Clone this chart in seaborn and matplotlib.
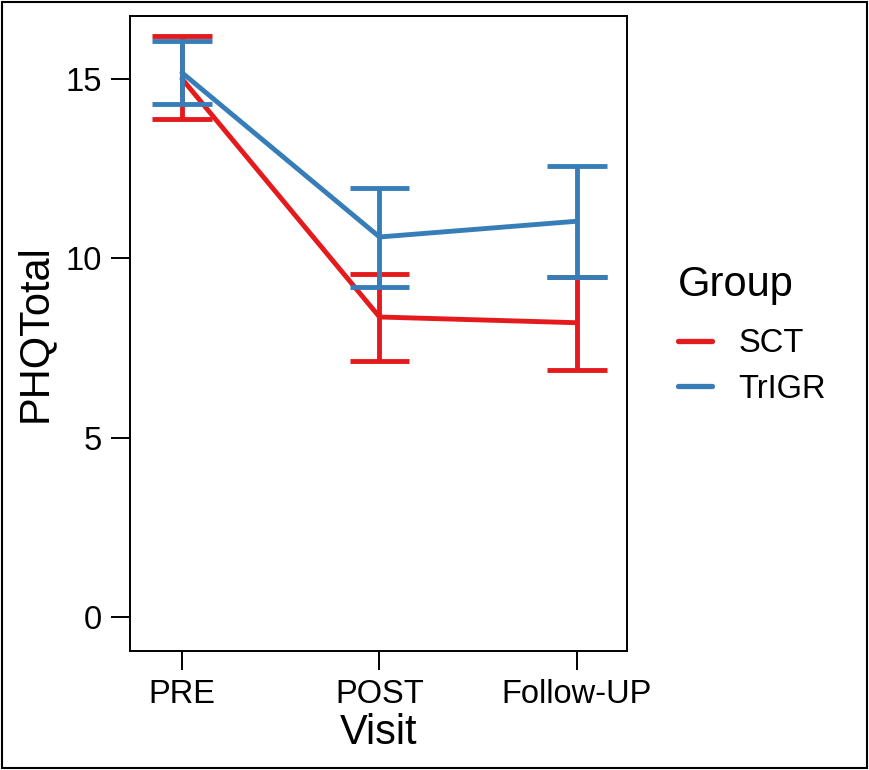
import matplotlib
matplotlib.use("Agg")
import matplotlib.pyplot as plt
from matplotlib.patches import Rectangle
import seaborn as sns
import pandas as pd

visits = ["PRE", "POST", "Follow-UP"]
groups = ["SCT", "TrIGR"]
sct_mean = [15.00, 8.36, 8.20]
sct_lower = [13.88, 7.13, 6.88]
sct_upper = [16.20, 9.56, 9.48]
trigr_mean = [15.17, 10.59, 11.03]
trigr_lower = [14.30, 9.19, 9.48]
trigr_upper = [16.06, 11.96, 12.56]
yticks = [0, 5, 10, 15]
colors = {"SCT": "#E41A1C", "TrIGR": "#377EB8"}

df = pd.DataFrame({
    "Visit": visits * 2,
    "Group": ["SCT"] * 3 + ["TrIGR"] * 3,
    "PHQTotal": sct_mean + trigr_mean,
    "lower": sct_lower + trigr_lower,
    "upper": sct_upper + trigr_upper,
})

sns.set_theme(style="white")
plt.rcParams["font.family"] = ["Liberation Sans", "DejaVu Sans"]
plt.rcParams["text.color"] = "black"

fig = plt.figure(figsize=(8.7, 7.7), dpi=100)
ax = fig.add_axes([130 / 870, 1 - 651 / 770, (627 - 130) / 870, (651 - 16) / 770])

lw = 3.5
sns.lineplot(data=df, x="Visit", y="PHQTotal", hue="Group", hue_order=groups,
             palette=colors, linewidth=lw, ax=ax, sort=False, legend=True)

cap = 0.15
for g in groups:
    sub = df[df["Group"] == g]
    for _, r in sub.iterrows():
        xi = visits.index(r["Visit"])
        ax.vlines(xi, r["lower"], r["upper"], color=colors[g], linewidth=lw, zorder=3)
        ax.hlines([r["lower"], r["upper"]], xi - cap, xi + cap, color=colors[g],
                  linewidth=lw, zorder=3)

ax.set_xlim(-0.263, 2.253)
ax.set_ylim(-0.95, 16.75)
ax.set_yticks(yticks)
ax.set_yticklabels([str(t) for t in yticks])
ax.set_xticks(range(len(visits)))
ax.set_xticklabels(visits)

for s in ax.spines.values():
    s.set_visible(True)
    s.set_color("black")
    s.set_linewidth(1.4)

ax.tick_params(axis="both", which="major", length=14, width=1.4, color="black",
               labelsize=23.5, labelcolor="black", pad=6, left=True, bottom=True)
ax.set_xlabel("Visit", fontsize=30, color="black", labelpad=2)
ax.set_ylabel("PHQTotal", fontsize=30, color="black", labelpad=8)
ax.grid(False)

leg = ax.legend(title="Group", loc="upper left", bbox_to_anchor=(657 / 870, 1 - 244 / 770),
                bbox_transform=fig.transFigure, frameon=False, fontsize=23.5,
                title_fontsize=30, handlelength=1.05, handletextpad=0.8,
                labelspacing=0.45, borderpad=0.65, borderaxespad=0)
leg._legend_box.align = "left"
leg._legend_box.sep = 16.5
leg.get_title().set_color("black")
for t in leg.get_texts():
    t.set_color("black")
for h in leg.get_lines():
    h.set_linewidth(lw + 0.3)

fig.patches.append(Rectangle((0.002, 0.002), 0.994, 0.995, transform=fig.transFigure,
                             fill=False, edgecolor="black", linewidth=1.5))

fig.savefig("out.png", dpi=100)
